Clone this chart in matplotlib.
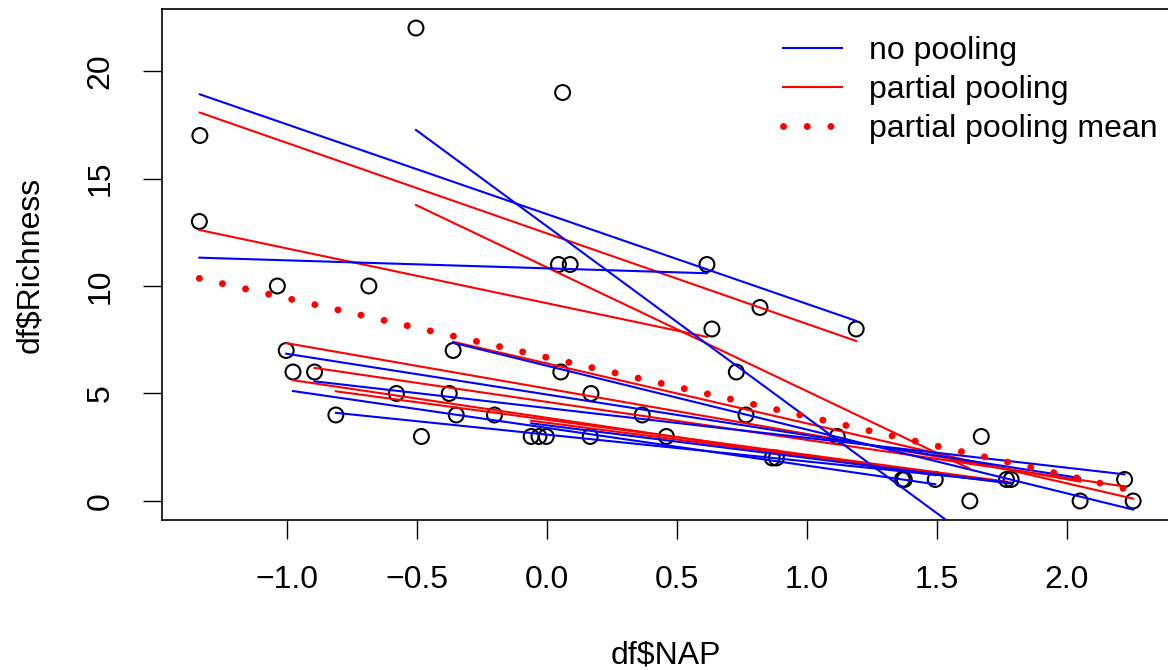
import numpy as np
import matplotlib
matplotlib.use("Agg")
import matplotlib.pyplot as plt

plt.rcParams['font.family'] = ['Liberation Sans', 'DejaVu Sans']

# RIKZ beach samples: NAP height, species richness, beach id
nap = [0.045, -1.036, -1.336, 0.616, -0.684,
       1.190, 0.820, 0.635, 0.061, -1.334,
       -0.976, 1.494, -0.201, -0.482, 0.167,
       1.768, -0.030, 0.460, 1.367, -0.811,
       1.117, -0.503, 0.729, 1.627, 0.054,
       -0.578, -0.348, 2.222, -0.893, 0.766,
       0.883, 1.786, 1.375, -0.060, 0.367,
       -1.002, 2.051, -0.375, 0.170, 1.671,
       -0.360, 2.255, -0.002, 0.090, 0.867]
richness = [11, 10, 13, 11, 10,
            8, 9, 8, 19, 17,
            6, 1, 4, 3, 3,
            1, 3, 3, 1, 4,
            3, 22, 6, 0, 6,
            5, 4, 1, 6, 4,
            2, 1, 1, 3, 4,
            7, 0, 5, 5, 3,
            7, 0, 3, 11, 2]
beach = [1] * 5 + [2] * 5 + [3] * 5 + [4] * 5 + [5] * 5 + \
        [6] * 5 + [7] * 5 + [8] * 5 + [9] * 5

# partial pooling fits per beach (intercept, slope)
pp_intercept = [9.20, 12.45, 3.87, 3.78, 10.87, 4.61, 3.64, 5.23, 6.40]
pp_slope = [-2.55, -4.21, -1.79, -1.63, -5.76, -1.77, -1.56, -2.11, -2.79]
# population-level line
mean_intercept = 6.68
mean_slope = -2.75

df = {'NAP': np.array(nap), 'Richness': np.array(richness), 'Beach': np.array(beach)}

FS = 23
DOTS = dict(color='red', lw=5.0, linestyle=(0, (0.01, 3.4)), dash_capstyle='round')

fig = plt.figure(figsize=(11.68, 6.70), dpi=100)
ax = fig.add_axes([162 / 1168, 1 - 519.9 / 670, 1008.5 / 1168, 510.8 / 670])

ax.scatter(df['NAP'], df['Richness'], s=115, facecolors='none',
           edgecolors='black', linewidths=1.5, zorder=2)

for i, b in enumerate(range(1, 10)):
    m = df['Beach'] == b
    x = df['NAP'][m]
    xr = np.array([x.min(), x.max()])
    ax.plot(xr, pp_intercept[i] + pp_slope[i] * xr, color='red', lw=1.5, zorder=3)
    k, c = np.polyfit(x, df['Richness'][m], 1)
    ax.plot(xr, c + k * xr, color='blue', lw=1.5, zorder=4)

xr = np.array([df['NAP'].min(), df['NAP'].max()])
ax.plot(xr, mean_intercept + mean_slope * xr, zorder=5, **DOTS)

# R-style axis ranges (4% padding)
pad_x = 0.04 * (xr[1] - xr[0])
ax.set_xlim(xr[0] - pad_x, xr[1] + pad_x)
ax.set_ylim(-0.04 * 22, 22 * 1.04)

ax.set_xticks([-1.0, -0.5, 0.0, 0.5, 1.0, 1.5, 2.0])
ax.set_xticklabels(['\u22121.0', '\u22120.5', '0.0', '0.5', '1.0', '1.5', '2.0'])
ax.set_yticks([0, 5, 10, 15, 20])
for lab in ax.get_yticklabels():
    lab.set_rotation(90)
    lab.set_va('center')
ax.tick_params(direction='out', length=13.5, width=1.0, labelsize=FS, pad=19)
ax.tick_params(axis='y', pad=20)
for s in ax.spines.values():
    s.set_linewidth(1.2)

ax.set_xlabel('df$NAP', fontsize=FS)
ax.xaxis.set_label_coords(0.5, -0.2645)
ax.xaxis.label.set_va('center')
ax.set_ylabel('df$Richness', fontsize=FS)
ax.yaxis.set_label_coords(-0.1309, 0.5)
ax.yaxis.label.set_va('center')

h1, = ax.plot([], [], color='blue', lw=1.5)
h2, = ax.plot([], [], color='red', lw=1.5)
h3, = ax.plot([], [], **DOTS)
ax.legend([h1, h2, h3], ['no pooling', 'partial pooling', 'partial pooling mean'],
          loc='upper left', bbox_to_anchor=(608 / 1008.5, 0.972), frameon=False,
          fontsize=FS, handlelength=1.85, handletextpad=0.85, labelspacing=0.28,
          borderaxespad=0.0)

fig.savefig('out.png', dpi=100)
